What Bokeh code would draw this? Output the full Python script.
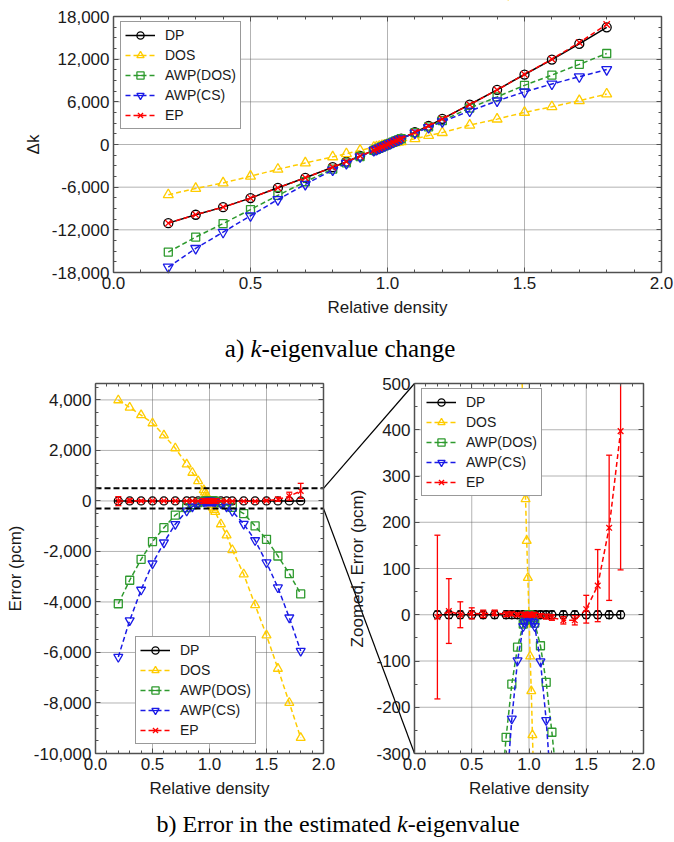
import math
from bokeh.plotting import figure
from bokeh.models import (Range1d, LinearAxis, SingleIntervalTicker,
                          NumeralTickFormatter, Legend, LegendItem, Label)
from bokeh.embed import file_html
from bokeh.resources import INLINE

# ---------------- data ----------------
density = [0.2, 0.3, 0.4, 0.5, 0.6, 0.7, 0.8, 0.85, 0.9, 0.95,
           0.96, 0.97, 0.98, 0.99, 1.0, 1.01, 1.02, 1.03, 1.04, 1.05,
           1.1, 1.15, 1.2, 1.3, 1.4, 1.5, 1.6, 1.7, 1.8]

# a) k-eigenvalue change (pcm)
dk_dp = [-11060, -9880, -8810, -7540, -6090, -4680, -3190, -2420, -1620, -820,
         -660, -495, -330, -165, 0, 165, 330, 500, 665, 830,
         1730, 2620, 3610, 5620, 7690, 9840, 11940, 14150, 16480]
dk_dos = [-7070, -6180, -5410, -4460, -3490, -2590, -1740, -1300, -830, -390,
          -320, -245, -170, -85, 0, 75, 165, 240, 320, 400,
          810, 1260, 1670, 2720, 3570, 4520, 5300, 6160, 7100]
dk_awp_dos = [-15130, -13020, -11120, -9150, -7150, -5240, -3455, -2570, -1690, -840,
              -672, -502, -333, -166, 0, 164, 327, 494, 654, 812,
              1663, 2474, 3356, 5120, 6700, 8320, 9760, 11270, 12800]
dk_awp_cs = [-17240, -14610, -12330, -10020, -7740, -5600, -3580, -2645, -1719, -845,
             -676, -504, -334, -166, 0, 164, 326, 491, 649, 805,
             1629, 2392, 3210, 4710, 6130, 7400, 8510, 9530, 10540]
dk_ep = [-11065, -9872, -8810, -7537, -6088, -4676, -3189, -2418, -1620, -819,
         -660, -494, -331, -165, 0, 166, 330, 499, 666, 830,
         1728, 2616, 3604, 5608, 7678, 9852, 12003, 14338, 16877]

# b) error in the estimated k-eigenvalue (pcm)
err_dp = [0, 0, 0, 0, 0, 0, 0, 0, 0, 0,
          0, 0, 0, 0, 0, 0, 0, 0, 0, 0,
          0, 0, 0, 0, 0, 0, 0, 0, 0]
sd_dp = [8, 8, 8, 8, 8, 8, 8, 8, 8, 8,
         8, 8, 8, 8, 8, 8, 8, 8, 8, 8,
         8, 8, 8, 8, 8, 8, 8, 8, 8]
err_dos = [3990, 3700, 3400, 3080, 2600, 2090, 1450, 1120, 790, 430,
           340, 250, 160, 80, 0, -90, -165, -260, -345, -430,
           -920, -1360, -1940, -2900, -4120, -5320, -6640, -7990, -9380]
err_awp_dos = [-4070, -3140, -2310, -1610, -1060, -560, -265, -150, -70, -20,
               -12, -7, -3, -1, 0, -1, -3, -6, -11, -18,
               -67, -146, -254, -500, -990, -1520, -2180, -2880, -3680]
err_awp_cs = [-6180, -4730, -3520, -2480, -1650, -920, -390, -225, -99, -25,
              -16, -9, -4, -1, 0, -1, -4, -9, -16, -25,
              -101, -228, -400, -910, -1560, -2440, -3430, -4620, -5940]
err_ep = [-5, 8, 0, 3, 2, 4, 1, 2, 0, 1,
          0, 1, -1, 0, 0, 1, 0, -1, 1, 0,
          -2, -4, -6, -12, -12, 12, 63, 188, 397]
sd_ep = [177, 70, 28, 12, 8, 6, 5, 4, 4, 3,
         3, 3, 3, 3, 3, 3, 3, 3, 3, 3,
         4, 5, 6, 8, 10, 30, 78, 157, 300]

labels = ["DP", "DOS", "AWP(DOS)", "AWP(CS)", "EP"]

# axis limits and tick spacing
TOP_X = (0, 2)
TOP_Y = (-18000, 18000)
L_Y = (-10000, 4650)
Z_Y = (-300, 500)
X_STEP, TOP_Y_STEP, L_Y_STEP, Z_Y_STEP = 0.5, 6000, 2000, 100

# ---------------- styles ----------------
colors = ["#000000", "#FFCC00", "#2E9A2E", "#1A1AE6", "#FF0000"]
markers = ["circle", "triangle", "square", "inverted_triangle", "x"]
dashes = ["solid", "5 3", "5 3", "5 3", "5 3"]
top_sizes = [9, 10, 8, 10, 9]
bot_sizes = [8, 9, 8, 9, 8]
FR = "#505050"
GRID = "#666666"
FONT = "Liberation Sans"
SERIF = "Liberation Serif"

# ---------------- layout (page pixels) ----------------
W, H = 674, 842
TOP_BOX = (113, 661, 16, 272)     # left, right, top, bottom
L_BOX = (95, 323, 383, 753)
R_BOX = (414, 643, 383, 753)


def x_range_for(box, lim):
    a, b = box[0], box[1]
    k = (lim[1] - lim[0]) / (b - a)
    return Range1d(lim[0] - a * k, lim[1] + (W - b) * k)


def y_range_for(box, lim):
    t, b = box[2], box[3]
    k = (lim[1] - lim[0]) / (b - t)
    return Range1d(lim[0] - (H - b) * k, lim[1] + t * k)


p = figure(width=W, height=H, x_range=Range1d(0, W), y_range=Range1d(H, 0),
           x_axis_type=None, y_axis_type=None, output_backend="svg", toolbar_location=None,
           min_border=0, min_border_left=0, min_border_right=0, min_border_top=0,
           min_border_bottom=0)
p.outline_line_color = None
p.background_fill_color = "white"
p.extra_x_ranges = {"tx": x_range_for(TOP_BOX, TOP_X), "lx": x_range_for(L_BOX, TOP_X),
                    "rx": x_range_for(R_BOX, TOP_X)}
p.extra_y_ranges = {"ty": y_range_for(TOP_BOX, TOP_Y), "ly": y_range_for(L_BOX, L_Y),
                    "ry": y_range_for(R_BOX, Z_Y)}


def ticks_between(lim, step, inner=True):
    n0 = math.ceil(lim[0] / step)
    n1 = math.floor(lim[1] / step)
    t = [round(i * step, 6) for i in range(n0, n1 + 1)]
    if inner:
        t = [v for v in t if lim[0] < v < lim[1]]
    return t


def grid(xlim, ylim, ystep, xr, yr):
    xt = ticks_between(xlim, X_STEP)
    yt = ticks_between(ylim, ystep)
    p.segment(x0=xt, x1=xt, y0=[ylim[0]] * len(xt), y1=[ylim[1]] * len(xt),
              line_color=GRID, line_dash="1 1", line_width=1, x_range_name=xr, y_range_name=yr)
    p.segment(x0=[xlim[0]] * len(yt), x1=[xlim[1]] * len(yt), y0=yt, y1=yt,
              line_color=GRID, line_dash="1 1", line_width=1, x_range_name=xr, y_range_name=yr)


def draw_series(xs, ys_list, sd_list, sizes, xr, yr, bars=True):
    items = []
    for lab, col, mk, dash, ys, sd, ms in zip(labels, colors, markers, dashes,
                                              ys_list, sd_list, sizes):
        kw = dict(x_range_name=xr, y_range_name=yr)
        ln = p.line(xs, ys, line_color=col, line_width=1.5, line_dash=dash, **kw)
        bar_lg = p.scatter([float("nan")], [float("nan")], marker="dash", angle=math.pi / 2,
                           size=10, line_color=col, line_width=1.2, **kw)
        if bars and sd is not None:
            lo = [y - s for y, s in zip(ys, sd)]
            hi = [y + s for y, s in zip(ys, sd)]
            p.segment(x0=xs, y0=lo, x1=xs, y1=hi, line_color=col, line_width=1.3, **kw)
            p.scatter(xs + xs, lo + hi, marker="dash", size=6, line_color=col,
                      line_width=1.3, **kw)
        mr = p.scatter(xs, ys, marker=mk, size=ms, fill_color=None, line_color=col,
                       line_width=1.3, **kw)
        items.append(LegendItem(label=lab, renderers=[ln, bar_lg, mr]))
    return items


def add_axis(side, step, minor, fmt, loc, bounds, xr, yr, labels_on=True, label=None):
    ax = LinearAxis(ticker=SingleIntervalTicker(interval=step, num_minor_ticks=minor),
                    formatter=NumeralTickFormatter(format=fmt), fixed_location=loc,
                    bounds=bounds, x_range_name=xr, y_range_name=yr)
    ax.axis_line_color = FR
    ax.axis_line_width = 1.5
    ax.major_tick_in = 5
    ax.major_tick_out = 0
    ax.minor_tick_in = 3
    ax.minor_tick_out = 0
    ax.major_tick_line_color = FR
    ax.minor_tick_line_color = FR
    ax.major_label_text_font = FONT
    ax.major_label_text_font_size = "17px"
    ax.major_label_text_color = "#1a1a1a" if labels_on else None
    ax.major_label_standoff = 4
    if label:
        ax.axis_label = label
        ax.axis_label_text_font = FONT
        ax.axis_label_text_font_size = "17px"
        ax.axis_label_text_font_style = "normal"
        ax.axis_label_text_color = "#1a1a1a"
        ax.axis_label_standoff = 6
    p.add_layout(ax, side)


def box_axes(xlim, ylim, ystep, yminor, yfmt, xr, yr, ylabel):
    add_axis("below", X_STEP, 5, "0.0", ylim[0], xlim, xr, yr, label="Relative density")
    add_axis("above", X_STEP, 5, "0.0", ylim[1], xlim, xr, yr, labels_on=False)
    add_axis("left", ystep, yminor, yfmt, xlim[0], ylim, xr, yr, label=ylabel)
    add_axis("right", ystep, yminor, yfmt, xlim[1], ylim, xr, yr, labels_on=False)


def style_legend(leg):
    leg.label_text_font = FONT
    leg.label_text_font_size = "14px"
    leg.label_text_color = "#1a1a1a"
    leg.label_height = 18
    leg.glyph_height = 18
    leg.glyph_width = 30
    leg.spacing = 2
    leg.padding = 4
    leg.label_standoff = 10
    leg.border_line_color = "#333333"
    leg.border_line_width = 1.5
    leg.background_fill_color = "white"
    leg.background_fill_alpha = 1.0
    return leg


LEG_H = 106
errs = [err_dp, err_dos, err_awp_dos, err_awp_cs, err_ep]
sds = [sd_dp, None, None, None, sd_ep]

# ----- b) zoomed panel (drawn first, then masked outside its box) -----
grid(TOP_X, L_Y, L_Y_STEP, "lx", "ly")
grid(TOP_X, Z_Y, Z_Y_STEP, "rx", "ry")
items_R = draw_series(density, errs, sds, bot_sizes, "rx", "ry")
p.quad(left=[R_BOX[0] + 1, R_BOX[0] + 1], right=[R_BOX[1] + 6, R_BOX[1] + 6],
       top=[0, R_BOX[3]], bottom=[R_BOX[2], H], fill_color="white", line_color=None)

# ----- b) left panel -----
items_L = draw_series(density, errs, sds, bot_sizes, "lx", "ly")
p.segment(x0=[TOP_X[0]] * 2, x1=[TOP_X[1]] * 2, y0=[Z_Y[1], Z_Y[0]], y1=[Z_Y[1], Z_Y[0]],
          line_color="black", line_dash="6 3", line_width=2, x_range_name="lx",
          y_range_name="ly")


def ly_px(v):
    return L_BOX[3] - (v - L_Y[0]) / (L_Y[1] - L_Y[0]) * (L_BOX[3] - L_BOX[2])


p.segment(x0=[L_BOX[1]] * 2, y0=[ly_px(Z_Y[1]), ly_px(Z_Y[0])],
          x1=[R_BOX[0]] * 2, y1=[R_BOX[2], R_BOX[3]], line_color="black", line_width=1.2)

box_axes(TOP_X, L_Y, L_Y_STEP, 4, "0,0", "lx", "ly", "Error (pcm)")
box_axes(TOP_X, Z_Y, Z_Y_STEP, 2, "0", "rx", "ry", "Zoomed, Error (pcm)")

p.add_layout(style_legend(Legend(items=items_L, location=(135, H - 744))), "center")
p.add_layout(style_legend(Legend(items=items_R, location=(R_BOX[0] + 7, H - (R_BOX[2] + 7 + LEG_H)))),
             "center")

# ----- a) top panel -----
grid(TOP_X, TOP_Y, TOP_Y_STEP, "tx", "ty")
items_top = draw_series(density, [dk_dp, dk_dos, dk_awp_dos, dk_awp_cs, dk_ep],
                        [None] * 5, top_sizes, "tx", "ty", bars=False)
box_axes(TOP_X, TOP_Y, TOP_Y_STEP, 4, "0,0", "tx", "ty", "Δk")
p.add_layout(style_legend(Legend(items=items_top,
                                 location=(TOP_BOX[0] + 7, H - (TOP_BOX[2] + 7 + LEG_H)))),
             "center")


# ----- captions (page pixel coordinates) -----
def caption(x0, y, size, parts):
    for txt, dx, style in parts:
        p.add_layout(Label(x=x0 + dx, y=y, text=txt, text_font=SERIF, text_font_size=size,
                           text_font_style=style, text_color="black", text_align="left",
                           text_baseline="middle"))


caption(224.3, 348, "25px", [("a)", 0.0, "normal"), ("k", 25.7, "italic"),
                             ("-eigenvalue change", 36.8, "normal")])
caption(155.9, 823, "24px", [("b) Error in the estimated", 0.0, "normal"), ("k", 240.6, "italic"),
                             ("-eigenvalue", 251.26, "normal")])

open("out.html", "w").write(file_html(p, INLINE))
